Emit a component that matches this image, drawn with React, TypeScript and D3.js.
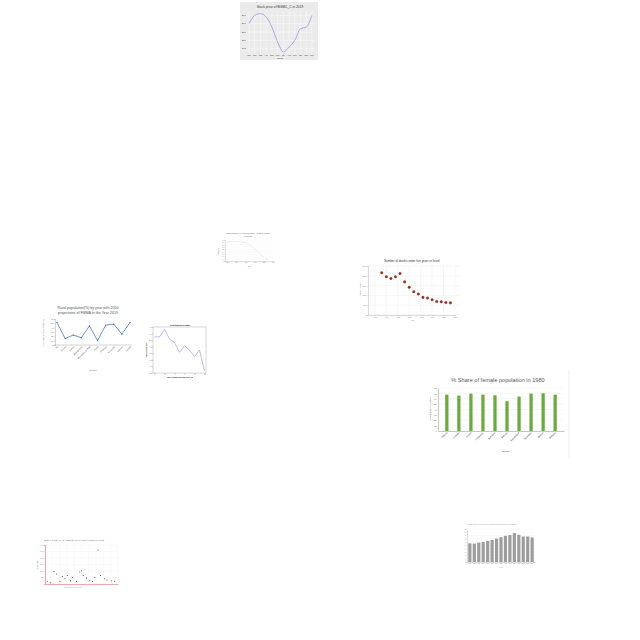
import React, { useRef, useEffect } from 'react';
import * as d3 from 'd3';

// stock chart (top)
const stockMonths = ['Jan', 'Feb', 'Mar', 'Apr', 'May', 'Jun', 'Jul', 'Aug', 'Sep', 'Oct', 'Nov', 'Dec'];
const stockPrices = [26.0, 26.5, 26.6, 26.4, 25.8, 24.9, 24.3, 24.6, 25.0, 25.7, 25.8, 26.5];
const stockTicks = [24.5, 25.0, 25.5, 26.0, 26.5];

// faint rural line chart
const ruralYears = [1960, 1965, 1970, 1975, 1980, 1985, 1990, 1995, 2000, 2005];
const ruralShare = [40.2, 41.5, 41.5, 40.8, 38.8, 33.2, 26.3, 17.3, 8.3, 2.1];

// deaths under five scatter
const deathYears = [1968, 1970, 1972, 1974, 1976, 1978, 1980, 1982, 1984, 1986, 1988, 1990, 1992, 1994, 1996, 1998];
const deaths = [2155, 1948, 1862, 1948, 2121, 1690, 1414, 1190, 1069, 897, 862, 776, 690, 672, 638, 621];

// rural population by country
const ruralCountries = ['Fiji', 'Guinea', 'Kenya', 'Madagascar', 'Mozambique Rep.', 'Nepal', 'Rwanda', 'Sri Lanka', 'Uganda', 'Zambia'];
const ruralPct = [52, 15, 23, 17, 44, 10, 46, 48, 25, 52];

// BBB line
const bbbIndex = [0, 1, 2, 3, 4, 5, 6, 7, 8, 9, 10];
const bbbValues = [5.5, 5.5, 6.65, 5.15, 4.65, 3.15, 4.15, 3.5, 2.5, 3.5, 0.35];

// female share bars
const femaleCountries = ['Albania', 'Australia', 'Austria', 'Azerbaijan', 'Bahamas', 'Bahrain', 'Bangladesh', 'Barbados', 'Belarus', 'Belgium'];
const femaleShare = [67.7, 65.8, 69.5, 67.7, 66.5, 55.4, 64, 69.5, 70.2, 67.7];

// small scatter (bottom left)
const scatterX = [3.2, 7.7, 12.3, 15.9, 20.5, 23.6, 27.3, 30.5, 35, 37.7, 43.2, 47.7, 50, 52.3, 56.8, 61.4, 65, 68.2, 72.7, 75.9, 81.8, 85, 90.9, 95.5];
const scatterY = [4.1, 2, 19.3, 15.3, 4.1, 11.7, 8.1, 13.2, 5.1, 10.2, 4.1, 18.3, 20.3, 13.2, 9.2, 5.1, 4.1, 10.2, 52.4, 13.2, 8.1, 6.1, 5.1, 4.1];

// gray bars (bottom right)
const totalYears = ['2000', '2001', '2002', '2003', '2004', '2005', '2006', '2007', '2008', '2009', '2010', '2011', '2012', '2013', '2014'];
const totalValues = [56.7, 55.7, 58.8, 60.8, 63.9, 67, 71.1, 75.3, 79.4, 81.4, 87.6, 82.5, 77.3, 77.3, 74.2];

const FONT = 'Liberation Sans, Arial, sans-serif';

const styleAxis = (g: any, color: string, size: number) => {
  g.attr('font-family', FONT);
  g.selectAll('path,line').attr('stroke', color).attr('stroke-width', 0.3);
  g.selectAll('text').attr('font-size', size).attr('fill', color);
};

export default function App() {
  const svgRef = useRef<SVGSVGElement>(null);

  useEffect(() => {
    const svg = d3.select(svgRef.current);
    svg.selectAll('*').remove();

    const text = (x: number, y: number, s: string, size: number, color = '#444', weight = 'normal', rotate = false) => {
      const t = svg.append('text')
        .attr('x', x).attr('y', y)
        .attr('text-anchor', 'middle')
        .attr('font-family', FONT)
        .attr('font-size', size)
        .attr('font-weight', weight)
        .attr('fill', color)
        .text(s);
      if (rotate) t.attr('transform', `rotate(-90,${x},${y})`);
      return t;
    };

    // ---- 1. stock price
    {
      svg.append('rect').attr('x', 240).attr('y', 2).attr('width', 78).attr('height', 58).attr('fill', '#ebebeb');
      const x = d3.scalePoint().domain(stockMonths).range([249, 312]);
      const y = d3.scaleLinear().domain([24.3, 26.7]).range([52, 12]);
      const g = svg.append('g');
      g.selectAll('line.h').data(stockTicks).join('line')
        .attr('x1', 246).attr('x2', 315).attr('y1', d => y(d)).attr('y2', d => y(d))
        .attr('stroke', '#fff').attr('stroke-width', 0.4);
      g.selectAll('line.v').data(stockMonths).join('line')
        .attr('x1', d => x(d)!).attr('x2', d => x(d)!).attr('y1', 11).attr('y2', 53)
        .attr('stroke', '#fff').attr('stroke-width', 0.4);
      const line = d3.line<number>().x((_, i) => x(stockMonths[i])!).y(d => y(d)).curve(d3.curveMonotoneX);
      g.append('path').datum(stockPrices).attr('d', line).attr('fill', 'none').attr('stroke', '#7a7ad8').attr('stroke-width', 0.6);
      g.selectAll('text.m').data(stockMonths).join('text')
        .attr('x', d => x(d)!).attr('y', 55.5).attr('text-anchor', 'middle')
        .attr('font-size', 2.1).attr('font-family', FONT).attr('fill', '#333').text(d => d);
      g.selectAll('text.t').data(stockTicks).join('text')
        .attr('x', 246).attr('y', d => y(d) + 0.7).attr('text-anchor', 'end')
        .attr('font-size', 2.1).attr('font-family', FONT).attr('fill', '#333').text(d => d.toFixed(1));
      text(280, 8.3, 'Stock price of BGMC_C in 2019', 3.3, '#333');
      text(280, 58.5, 'Month', 2.1, '#333');
    }

    // ---- 2. faint rural line
    {
      const x = d3.scaleLinear().domain([1958, 2010]).range([225, 273]);
      const y = d3.scaleLinear().domain([0, 45]).range([261, 240]);
      const ticks = d3.range(0, 50, 5);
      svg.selectAll('line.r2').data(ticks).join('line')
        .attr('x1', 225).attr('x2', 273).attr('y1', d => y(d)).attr('y2', d => y(d))
        .attr('stroke', '#eee').attr('stroke-width', 0.25);
      const gx = svg.append('g').attr('transform', 'translate(0,261)')
        .call(d3.axisBottom(x).tickValues([1960, 1970, 1980, 1990, 2000, 2010]).tickFormat(d3.format('d')).tickSize(0.8).tickPadding(0.6));
      styleAxis(gx, '#999', 1.5);
      const gy = svg.append('g').attr('transform', 'translate(225,0)')
        .call(d3.axisLeft(y).tickValues(ticks).tickSize(0.8).tickPadding(0.6));
      styleAxis(gy, '#999', 1.4);
      const line = d3.line<number>().x((_, i) => x(ruralYears[i])).y(d => y(d)).curve(d3.curveMonotoneX);
      svg.append('path').datum(ruralShare).attr('d', line).attr('fill', 'none')
        .attr('stroke', '#bbb').attr('stroke-width', 0.4).attr('stroke-dasharray', '1,0.6');
      text(248, 233.5, 'Rural population (% of total population) - Rates of increase', 1.7, '#666');
      text(248, 236.5, 'in Malaysia', 1.7, '#666');
      text(249, 266.5, 'Year', 1.6, '#888');
      text(219, 251, 'Rural pop.', 1.5, '#888', 'normal', true);
    }

    // ---- 3. deaths scatter
    {
      const x = d3.scaleLinear().domain([1962, 2000]).range([368, 455]);
      const y = d3.scaleLinear().domain([0, 2500]).range([315, 266]);
      const yt = d3.range(0, 3000, 500);
      const xt = d3.range(1965, 2001, 5);
      svg.selectAll('line.g3y').data(yt).join('line')
        .attr('x1', 368).attr('x2', 460).attr('y1', d => y(d)).attr('y2', d => y(d))
        .attr('stroke', '#e4e4e4').attr('stroke-width', 0.3);
      svg.selectAll('line.g3x').data(xt).join('line')
        .attr('x1', d => x(d)).attr('x2', d => x(d)).attr('y1', 266).attr('y2', 315)
        .attr('stroke', '#e4e4e4').attr('stroke-width', 0.3);
      const gx = svg.append('g').attr('transform', 'translate(0,315)')
        .call(d3.axisBottom(x).tickValues(xt).tickFormat(d3.format('d')).tickSize(0.8).tickPadding(0.8));
      styleAxis(gx, '#888', 1.7);
      const gy = svg.append('g').attr('transform', 'translate(368,0)')
        .call(d3.axisLeft(y).tickValues(yt).tickSize(0.8).tickPadding(0.8));
      styleAxis(gy, '#888', 1.7);
      svg.selectAll('circle.d').data(deaths).join('circle')
        .attr('cx', (_, i) => x(deathYears[i])).attr('cy', d => y(d)).attr('r', 1.3)
        .attr('fill', '#a52a1a').attr('stroke', '#5a1a10').attr('stroke-width', 0.25);
      text(412, 262, 'Number of deaths under five years in Israel', 2.9, '#333');
      text(412, 320.5, 'Year', 1.7, '#777');
      text(361, 290, 'Number of deaths', 1.7, '#777', 'normal', true);
    }

    // ---- 4. rural population by country
    {
      const x = d3.scalePoint().domain(ruralCountries).range([57, 130]);
      const y = d3.scaleLinear().domain([0, 60]).range([345, 319]);
      const gx = svg.append('g').attr('transform', 'translate(0,345)')
        .call(d3.axisBottom(x).tickSize(0).tickPadding(1.2));
      styleAxis(gx, '#666', 2.2);
      gx.selectAll('text').attr('text-anchor', 'end').attr('transform', 'rotate(-45)').attr('dy', '0.3em').attr('dx', '-0.3em');
      gx.select('.domain').attr('d', 'M55,0H132');
      const gy = svg.append('g').attr('transform', 'translate(55,0)')
        .call(d3.axisLeft(y).ticks(6).tickSize(0.8).tickPadding(0.8));
      styleAxis(gy, '#666', 2);
      const line = d3.line<number>().x((_, i) => x(ruralCountries[i])!).y(d => y(d));
      svg.append('path').datum(ruralPct).attr('d', line).attr('fill', 'none').attr('stroke', '#3465b8').attr('stroke-width', 0.7);
      svg.selectAll('circle.r4').data(ruralPct).join('circle')
        .attr('cx', (_, i) => x(ruralCountries[i])!).attr('cy', d => y(d)).attr('r', 0.6).attr('fill', '#3465b8');
      text(88, 309, 'Rural population(%) by year with 2050', 3.6, '#555');
      text(88, 314, 'projections of FMMA to the Year 2019', 3.6, '#555');
      text(93, 370.5, 'Country', 2.2, '#666');
      text(43.5, 333, 'Percentage of Rural Population', 2, '#666', 'normal', true);
    }

    // ---- 5. BBB line
    {
      const x = d3.scaleLinear().domain([-0.3, 10.3]).range([153, 206]);
      const y = d3.scaleLinear().domain([0, 7]).range([373, 327]);
      svg.append('rect').attr('x', 153).attr('y', 327).attr('width', 53).attr('height', 46)
        .attr('fill', 'none').attr('stroke', '#777').attr('stroke-width', 0.3);
      const gx = svg.append('g').attr('transform', 'translate(0,373)')
        .call(d3.axisBottom(x).tickValues([0, 2, 4, 6, 8, 10]).tickSize(0.8).tickPadding(0.6));
      styleAxis(gx, '#555', 1.5);
      gx.select('.domain').remove();
      const gy = svg.append('g').attr('transform', 'translate(153,0)')
        .call(d3.axisLeft(y).ticks(7).tickSize(0.8).tickPadding(0.6).tickFormat(d3.format('.1f')));
      styleAxis(gy, '#555', 1.5);
      gy.select('.domain').remove();
      const line = d3.line<number>().x((_, i) => x(bbbIndex[i])).y(d => y(d));
      svg.append('path').datum(bbbValues).attr('d', line).attr('fill', 'none').attr('stroke', '#8e8ee0').attr('stroke-width', 0.6);
      text(180, 325.5, 'Distribution of BBB', 2.1, '#222', 'bold');
      text(180, 377.5, 'Index of Bond Spreads (bp x 10)', 1.7, '#222', 'bold');
      text(146.5, 350, 'Spread Value (bp)', 1.7, '#222', 'bold', true);
    }

    // ---- 6. female share bars
    {
      svg.append('line').attr('x1', 569).attr('x2', 569).attr('y1', 370).attr('y2', 458)
        .attr('stroke', '#e0e0e0').attr('stroke-width', 0.6);
      const x = d3.scaleBand().domain(femaleCountries).range([438, 564]).paddingInner(0.73).paddingOuter(0.6);
      const y = d3.scaleLinear().domain([0, 80]).range([431, 388]);
      const ticks = d3.range(0, 90, 10);
      svg.selectAll('line.g6').data(ticks).join('line')
        .attr('x1', 438).attr('x2', 564).attr('y1', d => y(d)).attr('y2', d => y(d))
        .attr('stroke', '#e6e6e6').attr('stroke-width', 0.3);
      svg.selectAll('rect.b6').data(femaleShare).join('rect')
        .attr('x', (_, i) => x(femaleCountries[i])!).attr('width', x.bandwidth())
        .attr('y', d => y(d)).attr('height', d => 431 - y(d)).attr('fill', '#6aaa3e');
      const gx = svg.append('g').attr('transform', 'translate(0,431)')
        .call(d3.axisBottom(x).tickSize(0).tickPadding(1.2));
      styleAxis(gx, '#444', 2.3);
      gx.selectAll('text').attr('text-anchor', 'end').attr('transform', 'rotate(-45)').attr('dy', '0.3em').attr('dx', '-0.3em');
      const gy = svg.append('g').attr('transform', 'translate(438,0)')
        .call(d3.axisLeft(y).tickValues(ticks).tickSize(0).tickPadding(1.5));
      styleAxis(gy, '#444', 2);
      text(498, 382, '% Share of female population in 1980', 5.6, '#595959');
      text(506, 451.5, 'Country', 2.4, '#444');
      text(431, 409, '% of female population', 2.4, '#444', 'normal', true);
    }

    // ---- 7. scatter with red axes
    {
      const x = d3.scaleLinear().domain([0, 100]).range([45, 118]);
      const y = d3.scaleLinear().domain([0, 60]).range([584, 545]);
      const yt = d3.range(0, 70, 10);
      svg.selectAll('line.g7').data(yt).join('line')
        .attr('x1', 45).attr('x2', 118).attr('y1', d => y(d)).attr('y2', d => y(d))
        .attr('stroke', '#efefef').attr('stroke-width', 0.25);
      svg.selectAll('line.g7x').data(d3.range(0, 101, 10)).join('line')
        .attr('x1', d => x(d)).attr('x2', d => x(d)).attr('y1', 545).attr('y2', 584)
        .attr('stroke', '#efefef').attr('stroke-width', 0.25);
      const gy = svg.append('g').attr('transform', 'translate(45,0)')
        .call(d3.axisLeft(y).tickValues(yt).tickSize(0.6).tickPadding(0.6).tickFormat(d => `${+d * 1000}`));
      styleAxis(gy, '#e27b7b', 1.3);
      gy.select('.domain').attr('stroke', '#e05555').attr('stroke-width', 0.5);
      const gx = svg.append('g').attr('transform', 'translate(0,584)')
        .call(d3.axisBottom(x).tickValues([]).tickSize(0));
      styleAxis(gx, '#e05555', 1.3);
      gx.select('.domain').attr('stroke-width', 0.5);
      svg.selectAll('circle.s7').data(scatterY).join('circle')
        .attr('cx', (_, i) => x(scatterX[i])).attr('cy', d => y(d)).attr('r', 0.5).attr('fill', '#333');
      text(74, 540.5, 'BIRTH & DEATH RATES OF 24 MAJOR CITIES IN 2012', 2.4, '#777');
      text(73, 588, 'Comparison of cities (n=24)', 1.5, '#999');
      text(38, 565, 'Death count', 1.5, '#999', 'normal', true);
    }

    // ---- 8. gray bars
    {
      const x = d3.scaleBand().domain(totalYears).range([467, 535]).padding(0.28);
      const y = d3.scaleLinear().domain([0, 100]).range([562, 529]);
      const ticks = d3.range(0, 110, 10);
      svg.selectAll('line.g8').data(ticks).join('line')
        .attr('x1', 467).attr('x2', 535).attr('y1', d => y(d)).attr('y2', d => y(d))
        .attr('stroke', '#ececec').attr('stroke-width', 0.25);
      svg.selectAll('rect.b8').data(totalValues).join('rect')
        .attr('x', (_, i) => x(totalYears[i])!).attr('width', x.bandwidth())
        .attr('y', d => y(d)).attr('height', d => 562 - y(d)).attr('fill', '#9d9d9d');
      const gx = svg.append('g').attr('transform', 'translate(0,562)')
        .call(d3.axisBottom(x).tickSize(0).tickPadding(0.8));
      styleAxis(gx, '#888', 1.2);
      const gy = svg.append('g').attr('transform', 'translate(467,0)')
        .call(d3.axisLeft(y).tickValues(ticks).tickSize(0).tickPadding(0.8));
      styleAxis(gy, '#888', 1.1);
      text(492, 524.5, 'Total value of exports of goods and services (US$ bn)', 2.1, '#999');
      text(501, 568, 'Year', 1.4, '#888');
    }
  }, []);

  return (
    <svg ref={svgRef} width={640} height={640} style={{ position: 'absolute', left: 0, top: 0 }} />
  );
}
